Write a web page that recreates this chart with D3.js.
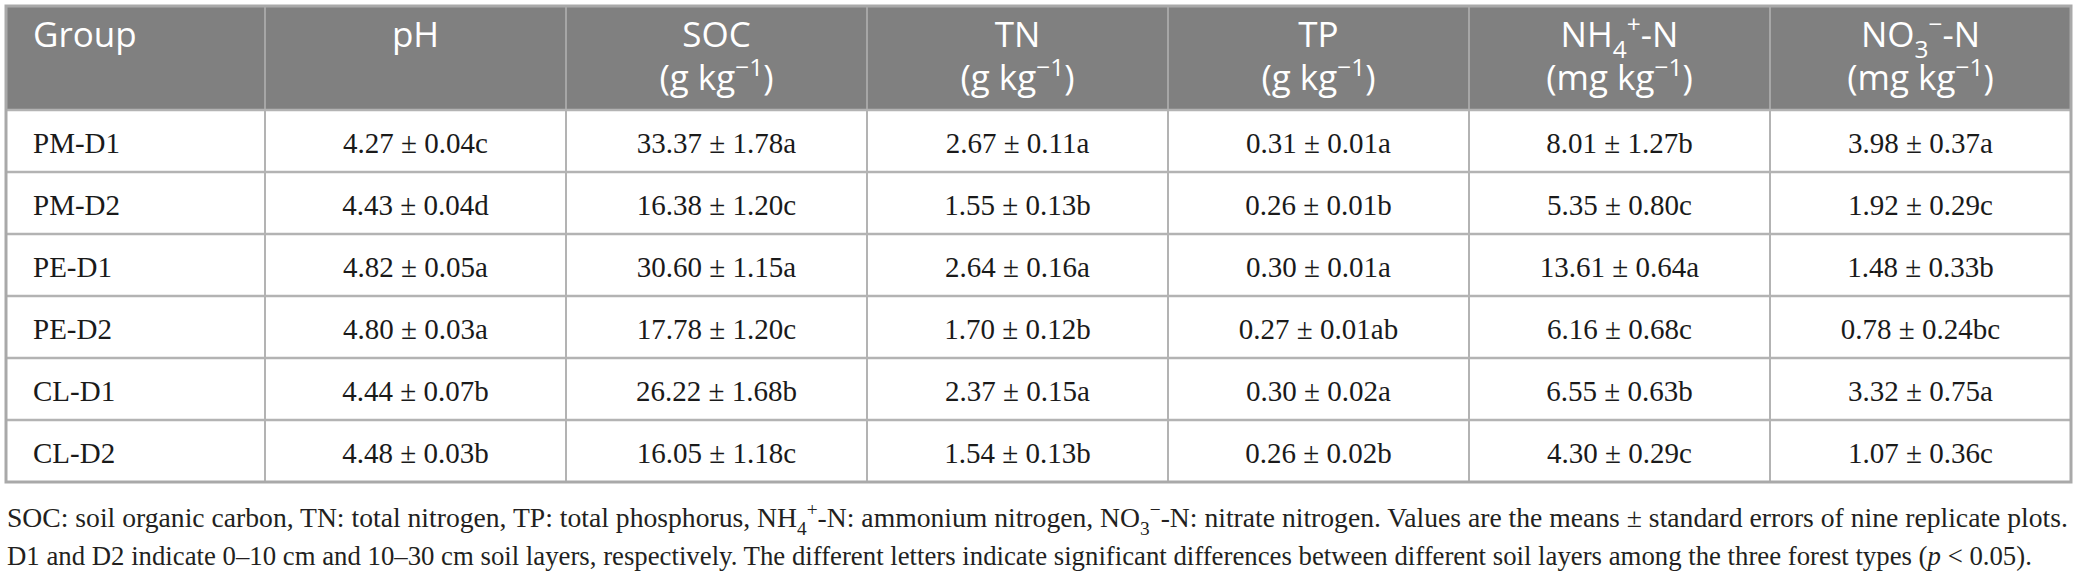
<!DOCTYPE html>
<html>
<head>
<meta charset="utf-8">
<script src="https://cdn.jsdelivr.net/npm/d3@7"></script>
<style>
	body { margin: 0; background: #fff; }
	svg { display: block; }
	text { white-space: pre; }
</style>
</head>
<body>
<div data-chart></div>
<script>
const groups = ['PM-D1', 'PM-D2', 'PE-D1', 'PE-D2', 'CL-D1', 'CL-D2']
const variables = ['pH', 'SOC', 'TN', 'TP', 'NH4', 'NO3']

const headerNames = ['pH', 'SOC', 'TN', 'TP', 'NH_{4}^{+}-N', 'NO_{3}^{−}-N']
const headerUnits = ['', '(g kg^{−1})', '(g kg^{−1})', '(g kg^{−1})', '(mg kg^{−1})', '(mg kg^{−1})']

const phMean = [4.27, 4.43, 4.82, 4.80, 4.44, 4.48]
const phSe = [0.04, 0.04, 0.05, 0.03, 0.07, 0.03]
const phLetter = ['c', 'd', 'a', 'a', 'b', 'b']

const socMean = [33.37, 16.38, 30.60, 17.78, 26.22, 16.05]
const socSe = [1.78, 1.20, 1.15, 1.20, 1.68, 1.18]
const socLetter = ['a', 'c', 'a', 'c', 'b', 'c']

const tnMean = [2.67, 1.55, 2.64, 1.70, 2.37, 1.54]
const tnSe = [0.11, 0.13, 0.16, 0.12, 0.15, 0.13]
const tnLetter = ['a', 'b', 'a', 'b', 'a', 'b']

const tpMean = [0.31, 0.26, 0.30, 0.27, 0.30, 0.26]
const tpSe = [0.01, 0.01, 0.01, 0.01, 0.02, 0.02]
const tpLetter = ['a', 'b', 'a', 'ab', 'a', 'b']

const nh4Mean = [8.01, 5.35, 13.61, 6.16, 6.55, 4.30]
const nh4Se = [1.27, 0.80, 0.64, 0.68, 0.63, 0.29]
const nh4Letter = ['b', 'c', 'a', 'c', 'b', 'c']

const no3Mean = [3.98, 1.92, 1.48, 0.78, 3.32, 1.07]
const no3Se = [0.37, 0.29, 0.33, 0.24, 0.75, 0.36]
const no3Letter = ['a', 'c', 'b', 'bc', 'a', 'c']

const footnotes = [
	'SOC: soil organic carbon, TN: total nitrogen, TP: total phosphorus, NH_{4}^{+}-N: ammonium nitrogen, NO_{3}^{−}-N: nitrate nitrogen. Values are the means ± standard errors of nine replicate plots.',
	'D1 and D2 indicate 0–10 cm and 10–30 cm soil layers, respectively. The different letters indicate significant differences between different soil layers among the three forest types (*p* < 0.05).'
]
// right end of each footnote line in the reference
const footEnds = [2069, 2033]

const columns = {
	pH: [phMean, phSe, phLetter],
	SOC: [socMean, socSe, socLetter],
	TN: [tnMean, tnSe, tnLetter],
	TP: [tpMean, tpSe, tpLetter],
	NH4: [nh4Mean, nh4Se, nh4Letter],
	NO3: [no3Mean, no3Se, no3Letter]
}

const dimensions = {
	width: 2078,
	height: 577,
	left: 6,
	right: 2071,
	top: 6,
	headerBottom: 110,
	bottom: 482,
	groupRight: 265,
	padLeft: 27
}

const fmt = d3.format('.2f')
const cellText = (v, i) => {
	const [m, s, l] = columns[v]
	return `${fmt(m[i])} ± ${fmt(s[i])}${l[i]}`
}

/* rich text: _{sub} ^{sup} *italic* */
const addRich = (textSel, str, size) => {
	let shift = 0
	str.split(/(_\{[^}]*\}|\^\{[^}]*\}|\*[^*]*\*)/)
		.filter((s) => s)
		.forEach((part) => {
			let content = part
			let target = 0
			let fs = size
			let italic = false
			if (part.startsWith('_{')) {
				content = part.slice(2, -1)
				target = size * 0.3
				fs = size * 0.7
			} else if (part.startsWith('^{')) {
				content = part.slice(2, -1)
				target = -size * 0.4
				fs = size * 0.7
			} else if (part.startsWith('*')) {
				content = part.slice(1, -1)
				italic = true
			}
			textSel.append('tspan')
				.attr('dy', target - shift)
				.attr('font-size', fs)
				.attr('font-style', italic ? 'italic' : null)
				.text(content)
			shift = target
		})
}

const svg = d3.select('[data-chart]')
	.append('svg')
	.attr('width', dimensions.width)
	.attr('height', dimensions.height)
	.attr('viewBox', `0 0 ${dimensions.width} ${dimensions.height}`)

const xScale = d3.scaleBand()
	.domain(variables)
	.range([dimensions.groupRight, dimensions.right])

const yScale = d3.scaleBand()
	.domain(groups)
	.range([dimensions.headerBottom, dimensions.bottom])

/* Header */
svg.append('rect')
	.attr('x', dimensions.left)
	.attr('y', dimensions.top)
	.attr('width', dimensions.right - dimensions.left)
	.attr('height', dimensions.headerBottom - dimensions.top)
	.attr('fill', '#808080')

const headerFont = "'Open Sans', 'Noto Sans', sans-serif"
const headerSize = 35

svg.append('text')
	.attr('x', dimensions.left + dimensions.padLeft)
	.attr('y', 47)
	.attr('fill', '#fff')
	.attr('font-family', headerFont)
	.attr('font-size', headerSize)
	.text('Group')

variables.forEach((v, i) => {
	const cx = xScale(v) + xScale.bandwidth() / 2
	const t1 = svg.append('text')
		.attr('x', cx)
		.attr('y', 47)
		.attr('text-anchor', 'middle')
		.attr('fill', '#fff')
		.attr('font-family', headerFont)
		.attr('font-size', headerSize)
	addRich(t1, headerNames[i], headerSize)
	if (headerUnits[i]) {
		const t2 = svg.append('text')
			.attr('x', cx)
			.attr('y', 90)
			.attr('text-anchor', 'middle')
			.attr('fill', '#fff')
			.attr('font-family', headerFont)
			.attr('font-size', headerSize)
		addRich(t2, headerUnits[i], headerSize)
	}
})

/* Grid lines */
const colEdges = [dimensions.groupRight, ...variables.slice(1).map((v) => xScale(v))]

svg.selectAll('.vline-head')
	.data(colEdges)
	.join('line')
	.attr('x1', (d) => d)
	.attr('x2', (d) => d)
	.attr('y1', dimensions.top)
	.attr('y2', dimensions.headerBottom)
	.attr('stroke', '#a6a6a6')
	.attr('stroke-width', 2)

svg.selectAll('.vline-body')
	.data(colEdges)
	.join('line')
	.attr('x1', (d) => d)
	.attr('x2', (d) => d)
	.attr('y1', dimensions.headerBottom)
	.attr('y2', dimensions.bottom)
	.attr('stroke', '#b3b3b3')
	.attr('stroke-width', 2)

svg.selectAll('.hline')
	.data(groups)
	.join('line')
	.attr('x1', dimensions.left)
	.attr('x2', dimensions.right)
	.attr('y1', (d) => yScale(d))
	.attr('y2', (d) => yScale(d))
	.attr('stroke', '#b3b3b3')
	.attr('stroke-width', 2.5)

svg.append('rect')
	.attr('x', dimensions.left)
	.attr('y', dimensions.top)
	.attr('width', dimensions.right - dimensions.left)
	.attr('height', dimensions.bottom - dimensions.top)
	.attr('fill', 'none')
	.attr('stroke', '#a9a9a9')
	.attr('stroke-width', 3)

/* Body */
const bodyFont = "'Liberation Serif', 'DejaVu Serif', serif"
const bodySize = 29

svg.selectAll('.group-label')
	.data(groups)
	.join('text')
	.attr('x', dimensions.left + dimensions.padLeft)
	.attr('y', (d) => yScale(d) + 43)
	.attr('font-family', bodyFont)
	.attr('font-size', bodySize)
	.attr('fill', '#1a1a1a')
	.text((d) => d)

variables.forEach((v) => {
	svg.selectAll(null)
		.data(groups)
		.join('text')
		.attr('x', xScale(v) + xScale.bandwidth() / 2)
		.attr('y', (d) => yScale(d) + 43)
		.attr('text-anchor', 'middle')
		.attr('font-family', bodyFont)
		.attr('font-size', bodySize)
		.attr('fill', '#1a1a1a')
		.text((d, i) => cellText(v, i))
})

/* Footnote: each line sized to span the same width as in the reference */
const footX = 7
footnotes.forEach((str, i) => {
	const make = (size) => {
		const t = svg.append('text')
			.attr('x', footX)
			.attr('y', 527 + i * 38)
			.attr('font-family', bodyFont)
			.attr('font-size', size)
			.attr('fill', '#231f20')
		addRich(t, str, size)
		return t
	}
	const probe = make(27)
	const w = probe.node().getBBox().width
	probe.remove()
	make(27 * (footEnds[i] - footX) / w)
})
</script>
</body>
</html>
